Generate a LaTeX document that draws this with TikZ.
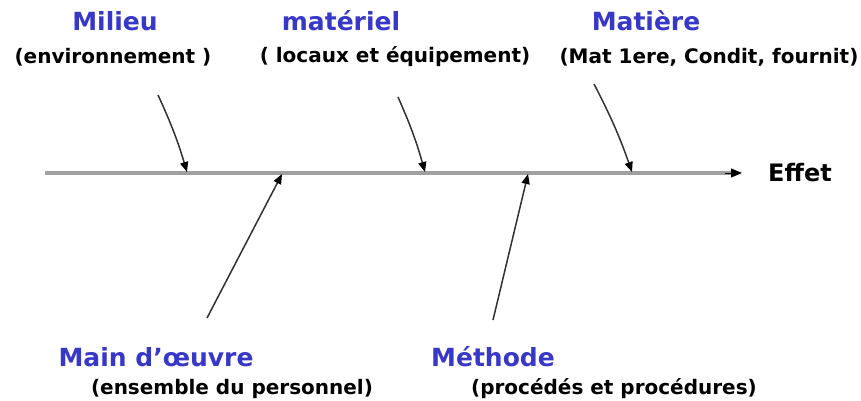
\documentclass[tikz,border=0pt]{standalone}
\usepackage{fontspec}
\setmainfont{DejaVu Sans}
\usetikzlibrary{arrows.meta}
\definecolor{catblue}{RGB}{55,55,200}
\definecolor{spinegray}{RGB}{160,160,160}
\definecolor{bonegray}{RGB}{50,50,50}
\begin{document}
\begin{tikzpicture}[x=1pt,y=-1pt,
  head/.style={font=\fontsize{25}{27}\selectfont\bfseries,text=catblue,inner sep=0pt},
  sub/.style={font=\fontsize{20}{22}\selectfont\bfseries,text=black,inner sep=0pt},
  bone/.style={draw=bonegray,line width=1.5pt,-{Triangle[length=10pt,width=8pt,color=black]}}]
\useasboundingbox (0,0) rectangle (861,401);
% spine
\coordinate (s0) at (45,173);
\coordinate (s1) at (742,173);
\draw[spinegray,line width=3.2pt] (s0) -- (732,173);
\draw[line width=1pt,-{Triangle[length=11pt,width=9pt]}] (725,173) -- (s1);
\node[font=\fontsize{24}{26}\selectfont\bfseries,inner sep=0pt] (effet) at (800,173) {Effet};
% top labels
\node[head] (milieu) at (115,21) {Milieu};
\node[sub] (milieuS) at (113,57) {(environnement )};
\node[head] (materiel) at (341,21) {matériel};
\node[sub] (materielS) at (395,57) {( locaux et équipement)};
\node[head] (matiere) at (646,21) {Matière};
\node[sub] (matiereS) at (709,57) {(Mat 1ere, Condit, fournit)};
% bottom labels
\node[head] (main) at (156,357) {Main d’œuvre};
\node[sub] (mainS) at (232,389) {(ensemble du personnel)};
\node[head] (methode) at (493,357) {Méthode};
\node[sub] (methodeS) at (614,389) {(procédés et procédures)};
% bone coordinates
\coordinate (a1) at (158,95); \coordinate (b1) at (187,172);
\coordinate (a2) at (398,97); \coordinate (b2) at (425,172);
\coordinate (a3) at (594,84);  \coordinate (b3) at (632,172);
\coordinate (a4) at (207,318); \coordinate (b4) at (282,174);
\coordinate (a5) at (493,320); \coordinate (b5) at (528,174);
\draw[bone] (a1) to[bend left=4] (b1);
\draw[bone] (a2) to[bend left=4] (b2);
\draw[bone] (a3) to[bend left=4] (b3);
\draw[bone] (a4) -- (b4);
\draw[bone] (a5) -- (b5);
\end{tikzpicture}
\end{document}
